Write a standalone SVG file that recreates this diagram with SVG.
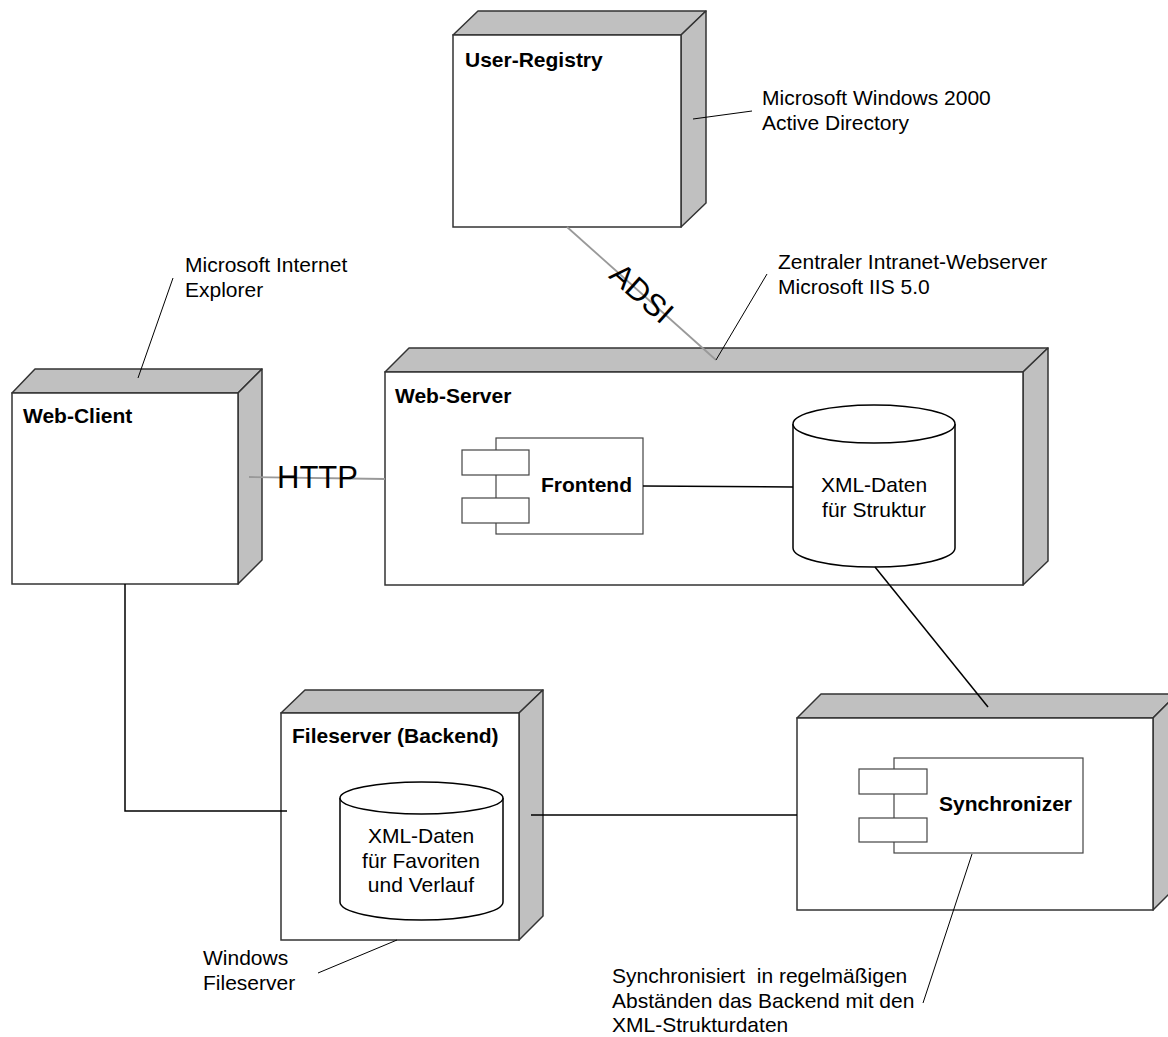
<svg xmlns="http://www.w3.org/2000/svg" width="1168" height="1037" viewBox="0 0 1168 1037">
<style>
.front{fill:#fff;stroke:#333;stroke-width:1.5}
.side{fill:#c0c0c0;stroke:#333;stroke-width:1.5;stroke-linejoin:round}
.title{font-family:"Liberation Sans",Arial,sans-serif;font-weight:bold;font-size:21px;fill:#000}
.txt{font-family:"Liberation Sans",Arial,sans-serif;font-size:21px;fill:#000;white-space:pre}
.ctxt{font-family:"Liberation Sans",Arial,sans-serif;font-size:21px;fill:#000;text-anchor:middle}
.big{font-family:"Liberation Sans",Arial,sans-serif;font-size:31px;fill:#000}
.conn{stroke:#000;stroke-width:1.5;fill:none}
.gconn{stroke:#999;stroke-width:1.8;fill:none}
.lead{stroke:#000;stroke-width:1;fill:none}
.comp{fill:#fff;stroke:#444;stroke-width:1.2}
.cyl{fill:#fff;stroke:#000;stroke-width:1.5}
</style>
<rect width="1168" height="1037" fill="#fff"/>

<g id="user-registry">
<polygon class="side" points="453,35 478,11 706,11 681,35"/>
<polygon class="side" points="681,35 706,11 706,203 681,227"/>
<rect class="front" x="453" y="35" width="228" height="192"/>
<text class="title" x="465" y="67">User-Registry</text>
</g>

<g id="web-client">
<polygon class="side" points="12,393 35,369 262,369 238,393"/>
<polygon class="side" points="238,393 262,369 262,560 238,584"/>
<rect class="front" x="12" y="393" width="226" height="191"/>
<text class="title" x="23" y="423">Web-Client</text>
</g>

<g id="web-server">
<polygon class="side" points="385,372 409,348 1048,348 1023,372"/>
<polygon class="side" points="1023,372 1048,348 1048,561 1023,585"/>
<rect class="front" x="385" y="372" width="638" height="213"/>
<text class="title" x="395" y="403">Web-Server</text>
</g>

<g id="frontend">
<rect class="comp" x="496" y="438" width="147" height="96"/>
<rect class="comp" x="462" y="450" width="67" height="25"/>
<rect class="comp" x="462" y="498" width="67" height="25"/>
<text class="title" x="541" y="492">Frontend</text>
</g>

<g id="xml-struktur">
<path class="cyl" d="M793,424 L793,548 A81,19 0 0 0 955,548 L955,424 A81,19 0 0 0 793,424 Z"/>
<path class="cyl" d="M793,424 A81,19 0 0 0 955,424" fill="none"/>
<text class="ctxt" x="874" y="492">XML-Daten</text>
<text class="ctxt" x="874" y="517">für Struktur</text>
</g>

<g id="fileserver">
<polygon class="side" points="281,713 305,690 543,690 519,713"/>
<polygon class="side" points="519,713 543,690 543,916 519,940"/>
<rect class="front" x="281" y="713" width="238" height="227"/>
<text class="title" x="292" y="743">Fileserver (Backend)</text>
</g>

<g id="xml-favoriten">
<path class="cyl" d="M340,798 L340,902 A81.5,18 0 0 0 503,902 L503,798 A81.5,16 0 0 0 340,798 Z"/>
<path class="cyl" d="M340,798 A81.5,16 0 0 0 503,798" fill="none"/>
<text class="ctxt" x="421" y="843">XML-Daten</text>
<text class="ctxt" x="421" y="868">für Favoriten</text>
<text class="ctxt" x="421" y="892">und Verlauf</text>
</g>

<g id="sync-node">
<polygon class="side" points="797,718 821,694 1177,694 1153,718"/>
<polygon class="side" points="1153,718 1177,694 1177,886 1153,910"/>
<rect class="front" x="797" y="718" width="356" height="192"/>
</g>

<g id="synchronizer">
<rect class="comp" x="894" y="758" width="189" height="95"/>
<rect class="comp" x="859" y="769" width="68" height="25"/>
<rect class="comp" x="859" y="818" width="68" height="24"/>
<text class="title" x="939" y="811">Synchronizer</text>
</g>

<g id="connectors">
<line class="gconn" x1="249" y1="477" x2="385" y2="479"/>
<line class="gconn" x1="567" y1="227" x2="716" y2="360"/>
<line class="conn" x1="643" y1="486" x2="793" y2="487"/>
<line class="conn" x1="875" y1="567" x2="988" y2="707"/>
<polyline class="conn" points="125,584 125,811 287,811"/>
<line class="conn" x1="531" y1="815" x2="797" y2="815"/>
<text class="big" x="277" y="488">HTTP</text>
<text class="big" transform="translate(642,293) rotate(42)" x="0" y="11" text-anchor="middle">ADSI</text>
</g>

<g id="annotations">
<line class="lead" x1="693" y1="119" x2="752" y2="111"/>
<text class="txt" x="762" y="105">Microsoft Windows 2000</text>
<text class="txt" x="762" y="130">Active Directory</text>
<line class="lead" x1="173" y1="278" x2="138" y2="378"/>
<text class="txt" x="185" y="272">Microsoft Internet</text>
<text class="txt" x="185" y="297">Explorer</text>
<line class="lead" x1="767" y1="274" x2="716" y2="360"/>
<text class="txt" x="778" y="269">Zentraler Intranet-Webserver</text>
<text class="txt" x="778" y="294">Microsoft IIS 5.0</text>
<line class="lead" x1="397" y1="940" x2="318" y2="973"/>
<text class="txt" x="203" y="965">Windows</text>
<text class="txt" x="203" y="990">Fileserver</text>
<line class="lead" x1="972" y1="854" x2="923" y2="1003"/>
<text class="txt" x="612" y="983" xml:space="preserve">Synchronisiert  in regelmäßigen</text>
<text class="txt" x="612" y="1008">Abständen das Backend mit den</text>
<text class="txt" x="612" y="1032">XML-Strukturdaten</text>
</g>
</svg>
